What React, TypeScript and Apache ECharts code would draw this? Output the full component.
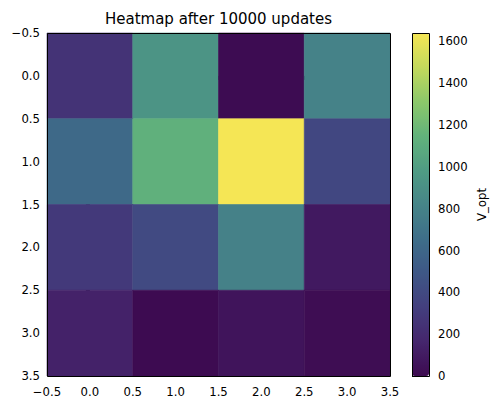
import { useEffect, useRef } from "react";
import * as echarts from "echarts";

// V_opt per state, rows top to bottom (y = 0..3), columns x = 0..3
const ROW_0 = [250, 930, 10, 800];
const ROW_1 = [620, 1130, 1640, 380];
const ROW_2 = [290, 400, 790, 90];
const ROW_3 = [140, 5, 60, 15];
const ROWS = [ROW_0, ROW_1, ROW_2, ROW_3];

const V_MIN = 0;
const V_MAX = 1640;
const COLORBAR_TICKS = [0, 200, 400, 600, 800, 1000, 1200, 1400, 1600];

// viridis, slightly muted like the reference render
const PALETTE = [
  "#3d0a50", "#45266d", "#433f7e", "#3e5786", "#3e6e89", "#468588",
  "#4f9c84", "#62b37b", "#8cc86a", "#c3d95c", "#f5e655",
];

const FONT = "DejaVu Sans";
const TICK_SIZE = 11.7;

// layout (px)
const PLOT = { left: 47, top: 33, size: 343 };
const CBAR = { left: 412, top: 33, width: 17, height: 343 };

const fmt = (v: number) => v.toFixed(1).replace("-", "\u2212");

export default function App() {
  const ref = useRef<HTMLDivElement>(null);

  useEffect(() => {
    document.body.style.margin = "0";
    if (!ref.current) return;
    const chart = echarts.init(ref.current, undefined, { renderer: "svg" });

    const data: number[][] = [];
    ROWS.forEach((row, y) => row.forEach((v, x) => data.push([x, y, v])));

    const axisCommon = {
      type: "value" as const,
      min: -0.5,
      max: 3.5,
      interval: 0.5,
      splitLine: { show: false },
      axisLine: { show: false },
      axisTick: { show: true, length: 4, lineStyle: { color: "#000", width: 1 } },
    };
    const labelCommon = { color: "#000", fontFamily: FONT, fontSize: TICK_SIZE, formatter: fmt };

    chart.setOption({
      animation: false,
      backgroundColor: "#fff",
      title: {
        text: "Heatmap after 10000 updates",
        left: PLOT.left + PLOT.size / 2,
        textAlign: "center",
        top: 11,
        padding: 0,
        textStyle: { fontFamily: FONT, fontSize: 15, fontWeight: "normal", color: "#000" },
      },
      tooltip: { show: false },
      grid: [
        { left: PLOT.left, top: PLOT.top, width: PLOT.size, height: PLOT.size },
        { left: CBAR.left, top: CBAR.top, width: CBAR.width, height: CBAR.height },
      ],
      xAxis: [
        { ...axisCommon, gridIndex: 0, position: "bottom", axisLabel: { ...labelCommon, margin: 10 } },
        { type: "value", gridIndex: 1, show: false, min: 0, max: 1 },
      ],
      yAxis: [
        { ...axisCommon, gridIndex: 0, inverse: true, position: "left", axisLabel: { ...labelCommon, margin: 7 } },
        {
          type: "value",
          gridIndex: 1,
          position: "right",
          min: V_MIN,
          max: V_MAX,
          splitLine: { show: false },
          axisLine: { show: false },
          axisTick: {
            show: true,
            length: 4,
            customValues: COLORBAR_TICKS,
            lineStyle: { color: "#000", width: 1 },
          },
          axisLabel: {
            color: "#000",
            fontFamily: FONT,
            fontSize: TICK_SIZE,
            margin: 9,
            customValues: COLORBAR_TICKS,
            formatter: (v: number) => String(v),
          },
          name: "V_opt",
          nameLocation: "middle",
          nameRotate: 90,
          nameGap: 47,
          nameTextStyle: { fontFamily: FONT, fontSize: TICK_SIZE, color: "#000" },
        },
      ],
      visualMap: {
        type: "continuous",
        min: V_MIN,
        max: V_MAX,
        seriesIndex: 0,
        dimension: 2,
        calculable: false,
        hoverLink: false,
        left: CBAR.left,
        top: CBAR.top,
        padding: 0,
        itemWidth: CBAR.width,
        itemHeight: CBAR.height,
        inRange: { color: PALETTE },
      },
      graphic: [
        {
          type: "rect",
          z: 100,
          shape: { x: PLOT.left + 0.5, y: PLOT.top + 0.5, width: PLOT.size, height: PLOT.size },
          style: { fill: "transparent", stroke: "#000", lineWidth: 1 },
        },
        {
          type: "rect",
          z: 100,
          shape: { x: CBAR.left + 0.5, y: CBAR.top + 0.5, width: CBAR.width, height: CBAR.height },
          style: { fill: "transparent", stroke: "#000", lineWidth: 1 },
        },
      ],
      series: [
        {
          type: "custom",
          xAxisIndex: 0,
          yAxisIndex: 0,
          data,
          encode: { x: 0, y: 1 },
          silent: true,
          renderItem: (_params: any, api: any) => {
            const x = api.value(0);
            const y = api.value(1);
            const p0 = api.coord([x - 0.5, y - 0.5]);
            const p1 = api.coord([x + 0.5, y + 0.5]);
            const c = api.visual("color");
            return {
              type: "rect",
              shape: {
                x: Math.min(p0[0], p1[0]),
                y: Math.min(p0[1], p1[1]),
                width: Math.abs(p1[0] - p0[0]),
                height: Math.abs(p1[1] - p0[1]),
              },
              style: { fill: c, stroke: c, lineWidth: 0.6 },
            };
          },
        },
      ],
    });

    return () => chart.dispose();
  }, []);

  return <div ref={ref} style={{ width: 502, height: 416 }} />;
}
